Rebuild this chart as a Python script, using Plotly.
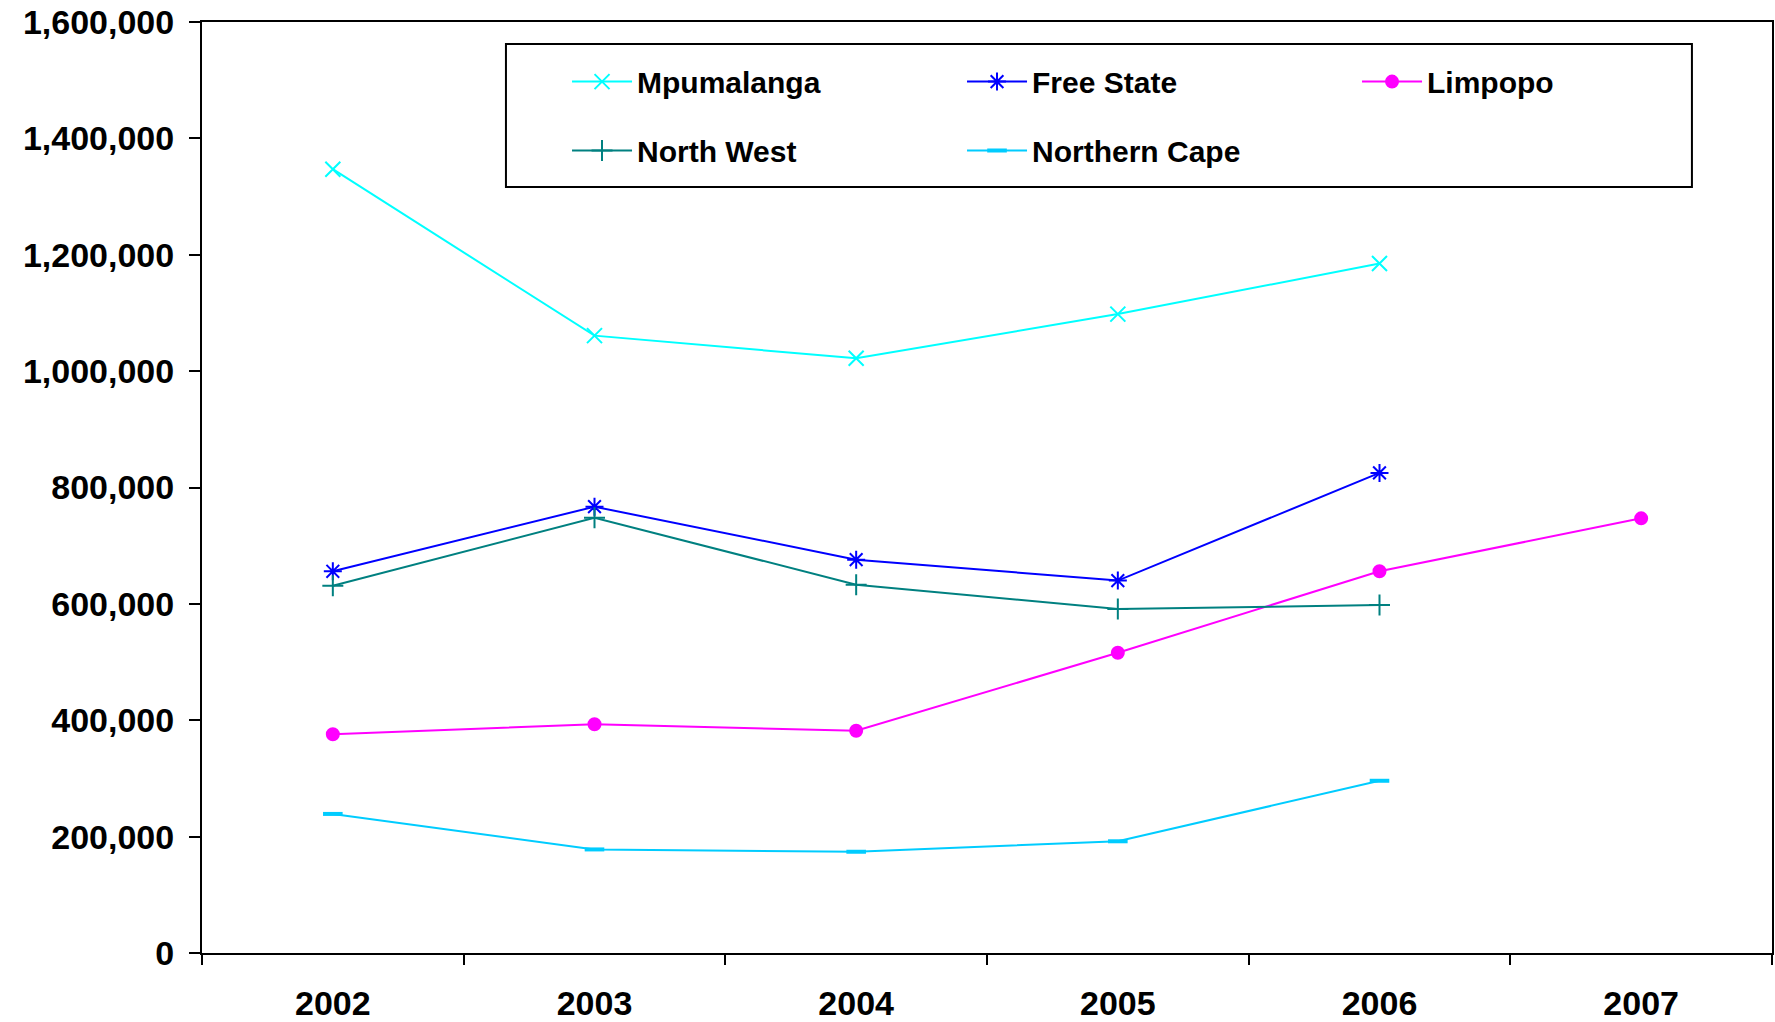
import plotly.graph_objects as go

years = ["2002", "2003", "2004", "2005", "2006", "2007"]

mpumalanga = [1347000, 1061000, 1022000, 1098000, 1185000]
free_state = [656000, 767000, 676000, 640000, 825000]
limpopo = [376000, 393000, 382000, 516000, 656000, 747000]
north_west = [631000, 748000, 633000, 591000, 598000]
northern_cape = [239000, 178000, 174000, 192000, 296000]

y_ticks = [0, 200000, 400000, 600000, 800000, 1000000, 1200000, 1400000, 1600000]

FONT = "Liberation Sans"

series = [
    ("Mpumalanga", mpumalanga, "#00FFFF", "x-thin", 15, "legend"),
    ("Free State", free_state, "#0000FF", "asterisk", 15, "legend"),
    ("Limpopo", limpopo, "#FF00FF", "circle", 12, "legend"),
    ("North West", north_west, "#008080", "cross-thin", 15, "legend2"),
    ("Northern Cape", northern_cape, "#00CCFF", "line-ew", 14, "legend2"),
]

fig = go.Figure()
for name, vals, color, sym, size, leg in series:
    fig.add_trace(go.Scatter(
        x=years[:len(vals)], y=vals, name=name, mode="lines+markers",
        line=dict(color=color, width=2),
        marker=dict(symbol=sym, size=size, color=color,
                    line=dict(color=color, width=2 if sym != "line-ew" else 4)),
        legend=leg,
    ))

legend_common = dict(
    orientation="h", xanchor="left", yanchor="middle",
    bgcolor="rgba(0,0,0,0)", borderwidth=0,
    entrywidth=320, entrywidthmode="pixels",
    font=dict(family=FONT, size=30, color="black", weight="bold"),
    itemwidth=60,
)

fig.update_layout(
    width=1775, height=1022,
    margin=dict(l=202, r=3, t=22, b=69, autoexpand=False),
    paper_bgcolor="white", plot_bgcolor="white",
    showlegend=True,
    legend=dict(x=0.2325, y=0.936, **legend_common),
    legend2=dict(x=0.2325, y=0.862, **legend_common),
    xaxis=dict(
        type="category", categoryorder="array", categoryarray=years,
        range=[-0.5, 5.5], tickson="boundaries",
        ticks="outside", ticklen=10, tickwidth=2, tickcolor="black",
        showline=True, linecolor="black", linewidth=2, mirror=True,
        showgrid=False, zeroline=False,
        tickfont=dict(family=FONT, size=34, color="black", weight="bold"),
        ticklabelstandoff=19,
    ),
    yaxis=dict(
        range=[0, 1600000], tickvals=y_ticks, tickformat=",",
        ticks="outside", ticklen=11, tickwidth=2, tickcolor="black",
        showline=True, linecolor="black", linewidth=2, mirror=True,
        showgrid=False, zeroline=False,
        tickfont=dict(family=FONT, size=34, color="black", weight="bold"),
        ticklabelstandoff=8,
    ),
    shapes=[dict(
        type="rect", xref="paper", yref="paper",
        x0=0.1936, x1=0.949, y0=0.8228, y1=0.9764,
        line=dict(color="black", width=2), fillcolor="rgba(0,0,0,0)",
    )],
)

fig.write_html("out.html")
